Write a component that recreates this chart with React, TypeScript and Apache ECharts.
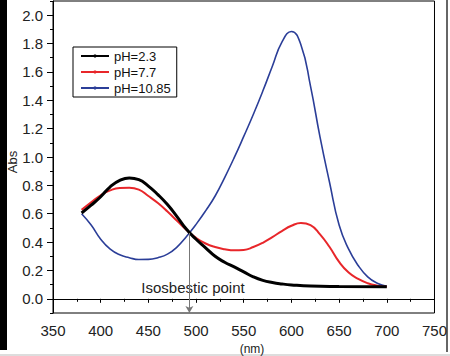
import React, { useEffect, useRef } from "react";
import * as echarts from "echarts";

const seriesNames = ["pH=2.3", "pH=7.7", "pH=10.85"];
const seriesColors = ["#000000", "#e8262a", "#2b3e98"];

const pH23: number[][] = [
  [380, 0.605], [390, 0.66], [400, 0.72], [410, 0.79], [420, 0.835], [430, 0.852],
  [440, 0.84], [450, 0.795], [460, 0.735], [470, 0.665], [480, 0.58], [490, 0.49],
  [500, 0.42], [510, 0.36], [520, 0.30], [530, 0.258], [540, 0.225], [550, 0.19],
  [560, 0.155], [570, 0.13], [580, 0.115], [590, 0.105], [600, 0.098], [620, 0.09],
  [650, 0.087], [700, 0.085],
];

const pH77: number[][] = [
  [380, 0.627], [390, 0.68], [400, 0.73], [410, 0.765], [420, 0.782], [430, 0.784],
  [440, 0.77], [450, 0.725], [460, 0.675], [470, 0.615], [480, 0.55], [490, 0.485],
  [500, 0.43], [510, 0.39], [520, 0.365], [530, 0.35], [540, 0.342], [550, 0.345],
  [560, 0.365], [570, 0.395], [580, 0.435], [590, 0.478], [600, 0.515], [610, 0.535],
  [620, 0.52], [630, 0.455], [640, 0.365], [650, 0.26], [660, 0.185], [670, 0.14],
  [680, 0.11], [690, 0.093], [700, 0.085],
];

const pH1085: number[][] = [
  [380, 0.60], [390, 0.52], [400, 0.42], [410, 0.35], [420, 0.31], [430, 0.29],
  [440, 0.277], [450, 0.278], [460, 0.29], [470, 0.315], [480, 0.365], [490, 0.44],
  [500, 0.525], [510, 0.62], [520, 0.725], [530, 0.855], [540, 0.995], [550, 1.145],
  [560, 1.30], [570, 1.465], [580, 1.64], [590, 1.81], [600, 1.885], [610, 1.79],
  [620, 1.50], [630, 1.14], [640, 0.82], [650, 0.52], [660, 0.35], [670, 0.235],
  [680, 0.155], [690, 0.11], [700, 0.089],
];

const isosbestic = [493, 0.464];
const yMajorTicks = [0, 0.2, 0.4, 0.6, 0.8, 1.0, 1.2, 1.4, 1.6, 1.8, 2.0];
const yMinorTicks = [-0.1, 0.1, 0.3, 0.5, 0.7, 0.9, 1.1, 1.3, 1.5, 1.7, 1.9, 2.1];
const xMin = 350;
const xMax = 750;
const yMin = -0.1;
const yMax = 2.1;

export default function App() {
  const ref = useRef<HTMLDivElement>(null);
  useEffect(() => {
    if (!ref.current) return;
    const chart = echarts.init(ref.current, null, { renderer: "svg" });
    const font = "Arial, 'Liberation Sans', sans-serif";
    const datasets = [pH23, pH77, pH1085];
    const widths = [3, 2, 1.6];
    chart.setOption({
      animation: false,
      backgroundColor: "#ffffff",
      grid: {
        left: 53, top: 1, right: 14, bottom: 43,
        show: true, borderColor: "#000", borderWidth: 1, containLabel: false,
      },
      legend: {
        orient: "vertical",
        left: 73,
        top: 47,
        data: seriesNames,
        itemWidth: 28,
        itemHeight: 4,
        itemGap: 2,
        padding: [2, 6, 2, 7],
        borderColor: "#000",
        borderWidth: 1,
        backgroundColor: "#fff",
        textStyle: { fontFamily: font, fontSize: 13, color: "#111", lineHeight: 14 },
      },
      xAxis: {
        type: "value",
        min: xMin,
        max: xMax,
        interval: 50,
        splitLine: { show: false },
        axisLine: { lineStyle: { color: "#000", width: 1 } },
        axisTick: { length: 4, lineStyle: { color: "#000" } },
        minorTick: { show: true, splitNumber: 2, length: 3, lineStyle: { color: "#000" } },
        axisLabel: { fontFamily: font, fontSize: 15, color: "#222", margin: 10 },
      },
      yAxis: [
        {
          type: "value",
          min: yMin,
          max: yMax,
          splitLine: { show: false },
          axisLine: { show: true, lineStyle: { color: "#000", width: 1 } },
          axisTick: { show: true, length: 6, customValues: yMajorTicks, lineStyle: { color: "#000" } },
          axisLabel: {
            fontFamily: font, fontSize: 15, color: "#222", margin: 10,
            customValues: yMajorTicks,
            formatter: (v: number) => v.toFixed(1),
          },
        },
        {
          type: "value",
          min: yMin,
          max: yMax,
          position: "left",
          splitLine: { show: false },
          axisLine: { show: false },
          axisTick: { show: true, length: 3, customValues: yMinorTicks, lineStyle: { color: "#000" } },
          axisLabel: { show: false },
        },
      ],
      series: datasets.map((d, i) => ({
        name: seriesNames[i],
        type: "line",
        data: d,
        smooth: true,
        symbol: "circle",
        symbolSize: 3,
        showSymbol: false,
        color: seriesColors[i],
        lineStyle: { color: seriesColors[i], width: widths[i] },
        z: 3 - i,
        markLine: i === 0 ? {
          silent: true,
          symbol: ["none", "arrow"],
          symbolSize: [6, 7],
          label: { show: false },
          lineStyle: { color: "#777", width: 1, type: "solid" },
          data: [[
            { coord: [isosbestic[0], isosbestic[1]] },
            { coord: [isosbestic[0], yMin] },
          ]],
        } : undefined,
      })),
      graphic: [
        { type: "rect", left: 0, top: 0, shape: { width: 7, height: 350 }, style: { fill: "#000" }, silent: true },
        { type: "line", shape: { x1: 447, y1: 0, x2: 447, y2: 352 }, style: { stroke: "#333", lineWidth: 1.5 }, silent: true },
        { type: "line", shape: { x1: 0, y1: 355, x2: 450, y2: 355 }, style: { stroke: "#bbb", lineWidth: 1 }, silent: true },
        {
          type: "text", x: 193, y: 287,
          style: { text: "Isosbestic point", fontFamily: font, fontSize: 15, fill: "#222", align: "center", verticalAlign: "middle" },
        },
        {
          type: "text", x: 252, y: 349,
          style: { text: "(nm)", fontFamily: font, fontSize: 12, fill: "#222", align: "center", verticalAlign: "middle" },
        },
        {
          type: "text", x: 12.5, y: 162, rotation: Math.PI / 2,
          style: { text: "Abs", fontFamily: font, fontSize: 13, fill: "#222", align: "center", verticalAlign: "middle" },
        },
      ],
    });
    return () => chart.dispose();
  }, []);
  return <div ref={ref} style={{ position: "fixed", left: 0, top: 0, width: 450, height: 356 }} />;
}
